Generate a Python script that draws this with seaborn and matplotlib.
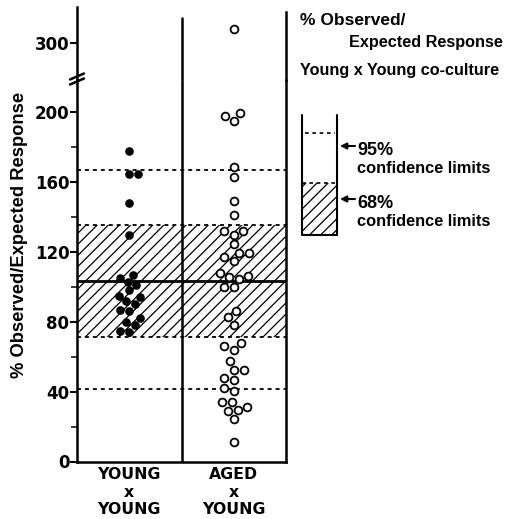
import matplotlib
matplotlib.use('Agg')
import matplotlib.pyplot as plt
import seaborn as sns
import pandas as pd
from matplotlib.patches import Rectangle
from matplotlib.lines import Line2D

# ---------------- data ----------------
categories = ['YOUNG\nx\nYOUNG', 'AGED\nx\nYOUNG']
young_values = [178, 165, 165, 148, 130, 107, 105, 103, 101, 98, 95, 94, 92,
                90, 87, 86, 82, 80, 78, 75, 74]
aged_values = [308, 199.5, 198, 195, 169, 163, 149, 141, 132, 132, 130, 124.5,
               119.7, 119.7, 117, 115, 108, 106.5, 105.5, 104.8, 100.2, 100,
               86, 83, 78.5, 68, 66, 64, 57.5, 52.4, 52.4, 48, 46.7, 42, 40.4,
               34.3, 34, 31.4, 29.5, 29, 24.5, 11.3]
mean_value = 103.4
ci95 = [41.5, 167.2]
ci68 = [71.3, 135.5]
lower_ticks = [0, 40, 80, 120, 160, 200]
lower_minor_ticks = [20, 60, 100, 140, 180]
upper_ticks = [300]
lower_range = [0, 218.6]
upper_range = [278.8, 321.8]

df_young = pd.DataFrame({'group': categories[0], 'value': young_values})
df_aged = pd.DataFrame({'group': categories[1], 'value': aged_values})

# ---------------- style ----------------
sns.set_theme(style='white')
plt.rcParams['font.family'] = ['DejaVu Sans']
plt.rcParams['hatch.linewidth'] = 0.9
NARROW = ['Liberation Sans', 'DejaVu Sans']

W, H = 507, 519
fig = plt.figure(figsize=(W / 100, H / 100), dpi=100)
fig.patch.set_facecolor('white')

ax_lo = fig.add_axes([77 / W, (H - 461.5) / H, 209 / W, (461.5 - 80) / H])
ax_hi = fig.add_axes([77 / W, (H - 80) / H, 209 / W, 75 / H])

for ax in (ax_lo, ax_hi):
    ax.set_facecolor('none')
    ax.axhspan(ci68[0], ci68[1], facecolor='none', edgecolor='black',
               hatch='///', linewidth=0, zorder=1)
    for v in ci95 + ci68:
        ax.axhline(v, color='black', lw=1.3, ls=(0, (2.2, 2.2)), zorder=2)
    ax.axhline(mean_value, color='black', lw=2.0, zorder=2)
    sns.swarmplot(data=df_young, x='group', y='value', order=categories,
                  color='black', size=6.2, linewidth=0, ax=ax, zorder=4)
    sns.swarmplot(data=df_aged, x='group', y='value', order=categories,
                  color='white', edgecolor='black', linewidth=1.3, size=5.6,
                  ax=ax, zorder=4)
    ax.set_xlim(-0.5, 1.5)
    ax.set_xlabel('')
    ax.set_ylabel('')
    for s in ax.spines.values():
        s.set_color('black')
        s.set_linewidth(1.8)

ax_lo.set_ylim(*lower_range)
ax_hi.set_ylim(*upper_range)

# lower axis
ax_lo.spines['top'].set_visible(False)
ax_lo.axvline(0.5, color='black', lw=1.8, zorder=3)
ax_lo.set_yticks(lower_ticks)
ax_lo.set_yticks(lower_minor_ticks, minor=True)
ax_lo.tick_params(axis='y', which='major', direction='out', length=5, width=1.5,
                  pad=0.5, labelsize=12, colors='black', left=True)
ax_lo.tick_params(axis='y', which='minor', direction='out', length=4, width=1.3,
                  left=True)
ax_lo.tick_params(axis='x', length=0, pad=4, labelsize=11.3, colors='black')
ax_lo.set_xticks([0, 1])
ax_lo.set_xticklabels(categories, fontweight='bold', linespacing=1.22)
for t in ax_lo.get_yticklabels():
    t.set_fontweight('bold')

# upper axis
ax_hi.spines['bottom'].set_visible(False)
ax_hi.spines['top'].set_visible(False)
ax_hi.spines['right'].set_bounds(upper_range[0], 317.8)
ax_hi.spines['left'].set_bounds(upper_range[0], 320.6)
ax_hi.axvline(0.5, ymin=0, ymax=(80 - 18) / 75, color='black', lw=1.8, zorder=3)
ax_hi.set_xticks([])
ax_hi.set_yticks(upper_ticks)
ax_hi.tick_params(axis='y', which='major', direction='out', length=5, width=1.5,
                  pad=0.5, labelsize=12, colors='black', left=True)
for t in ax_hi.get_yticklabels():
    t.set_fontweight('bold')

# y label
fig.text(20 / W, 1 - 234.5 / H, '% Observed/Expected Response', rotation=90,
         ha='center', va='center', fontsize=13.2, fontweight='bold',
         family=NARROW, color='black')

# overlay in pixel coordinates for break marks and legend
ov = fig.add_axes([0, 0, 1, 1], zorder=10)
ov.set_xlim(0, W)
ov.set_ylim(H, 0)
ov.axis('off')
ov.patch.set_alpha(0)

# axis break marks
for dy in (-2.5, 2.5):
    ov.add_line(Line2D([70, 84], [82 + dy, 76 + dy], color='black', lw=1.8))

# legend texts
tk = dict(fontweight='bold', family=NARROW, color='black', va='baseline')
ov.text(300, 25, '% Observed/', fontsize=12.5, ha='left', **tk)
ov.text(503, 47, 'Expected Response', fontsize=11.7, ha='right', **tk)
ov.text(300, 75, 'Young x Young co-culture', fontsize=11.7, ha='left', **tk)

# legend box
ov.add_patch(Rectangle((302, 183), 35, 52, facecolor='none', edgecolor='black',
                       hatch='///', linewidth=0))
ov.add_line(Line2D([302, 302, 337, 337], [115, 235, 235, 115], color='black', lw=1.5))
ov.add_line(Line2D([305, 335], [132.7, 132.7], color='black', lw=1.2, ls=(0, (2.2, 2.2))))
ov.add_line(Line2D([302, 337], [183.3, 183.3], color='black', lw=1.2, ls=(0, (2.2, 2.2))))

for yy, pct in ((146, '95%'), (199, '68%')):
    ov.annotate('', xy=(340, yy), xytext=(355, yy),
                arrowprops=dict(arrowstyle='-|>', color='black', lw=1.5,
                                mutation_scale=9, shrinkA=0, shrinkB=0))
    ov.text(357, yy + 9, pct, fontsize=13, ha='left', **tk)
    ov.text(357, yy + 27, 'confidence limits', fontsize=11.8, ha='left', **tk)

fig.savefig('out.png', dpi=100, facecolor='white')
